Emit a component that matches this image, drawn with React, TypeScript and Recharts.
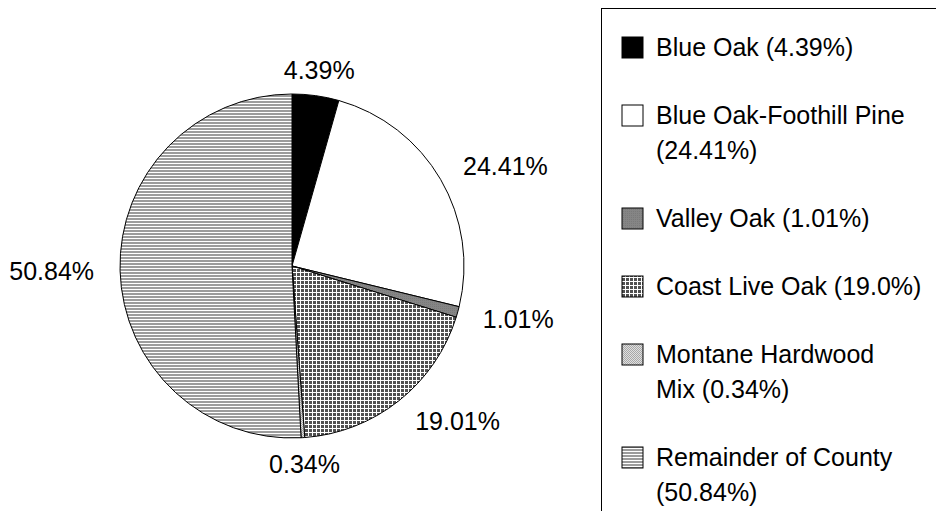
import { PieChart, Pie, Cell } from 'recharts'

const NAMES = [
  'Blue Oak',
  'Blue Oak-Foothill Pine',
  'Valley Oak',
  'Coast Live Oak',
  'Montane Hardwood Mix',
  'Remainder of County',
]
const VALUES = [4.39, 24.41, 1.01, 19.01, 0.34, 50.84]
const SLICE_LABELS = ['4.39%', '24.41%', '1.01%', '19.01%', '0.34%', '50.84%']
const LEGEND_LABELS = [
  'Blue Oak  (4.39%)',
  'Blue Oak-Foothill Pine\n(24.41%)',
  'Valley Oak (1.01%)',
  'Coast Live Oak (19.0%)',
  'Montane Hardwood\nMix (0.34%)',
  'Remainder of County\n(50.84%)',
]
const FILLS = ['#000000', '#ffffff', 'url(#valley)', 'url(#coast)', 'url(#montane)', 'url(#remainder)']

const FONT = '"Liberation Sans", Arial, sans-serif'
const RAD = Math.PI / 180

const data = NAMES.map((name, i) => ({ name, value: VALUES[i] }))

function renderLabel(props: any) {
  const { cx, cy, midAngle, outerRadius, index } = props
  const r = outerRadius + 26
  const c = Math.cos(midAngle * RAD)
  const x = cx + r * c
  const y = cy - r * Math.sin(midAngle * RAD)
  const anchor = c > 0.3 ? 'start' : c < -0.3 ? 'end' : 'middle'
  return (
    <text
      x={x}
      y={y}
      textAnchor={anchor}
      dominantBaseline="central"
      fontSize={25}
      fontFamily={FONT}
      fill="#000"
    >
      {SLICE_LABELS[index]}
    </text>
  )
}

export default function App() {
  return (
    <div style={{ position: 'relative', width: 936, height: 503, overflow: 'hidden', background: '#fff' }}>
      <PieChart width={936} height={503} margin={{ top: 0, right: 0, bottom: 0, left: 0 }}>
        <defs>
          <pattern id="valley" width={2} height={2} patternUnits="userSpaceOnUse">
            <rect width={2} height={2} fill="#858585" />
            <rect width={1} height={1} fill="#7a7a7a" />
          </pattern>
          <pattern id="coast" width={4} height={4} patternUnits="userSpaceOnUse">
            <rect width={4} height={4} fill="#505050" />
            <rect width={4} height={1} fill="#ffffff" />
            <rect width={1} height={4} fill="#ffffff" />
          </pattern>
          <pattern id="montane" width={2} height={2} patternUnits="userSpaceOnUse">
            <rect width={2} height={2} fill="#e0e0e0" />
            <rect width={1} height={1} fill="#a8a8a8" />
            <rect x={1} y={1} width={1} height={1} fill="#a8a8a8" />
          </pattern>
          <pattern id="remainder" width={3} height={3} patternUnits="userSpaceOnUse">
            <rect width={3} height={3} fill="#ffffff" />
            <rect width={3} height={2} fill="#9c9c9c" />
          </pattern>
        </defs>
        <Pie
          data={data}
          dataKey="value"
          nameKey="name"
          cx={284}
          cy={258}
          outerRadius={172}
          startAngle={90}
          endAngle={-270}
          stroke="#000"
          strokeWidth={1}
          label={renderLabel}
          labelLine={false}
          isAnimationActive={false}
        >
          {data.map((d, i) => (
            <Cell key={d.name} fill={FILLS[i]} />
          ))}
        </Pie>
      </PieChart>

      {/* legend box, its right and bottom edges run off the page */}
      <div
        style={{
          position: 'absolute',
          left: 593,
          top: 0,
          width: 400,
          height: 600,
          borderLeft: '1px solid #000',
          borderTop: '1px solid #000',
          boxSizing: 'border-box',
          paddingTop: 21,
          paddingLeft: 19,
          fontFamily: FONT,
          fontSize: 25,
          color: '#000',
        }}
      >
        {LEGEND_LABELS.map((label, i) => (
          <div key={NAMES[i]} style={{ display: 'flex', alignItems: 'flex-start', marginBottom: 33 }}>
            <svg width={23} height={35} style={{ flex: 'none' }}>
              <rect x={1} y={7} width={21} height={21} fill={FILLS[i]} stroke="#000" strokeWidth={1} />
            </svg>
            <div style={{ marginLeft: 12, lineHeight: '35px', whiteSpace: 'pre-line' }}>{label}</div>
          </div>
        ))}
      </div>
    </div>
  )
}
